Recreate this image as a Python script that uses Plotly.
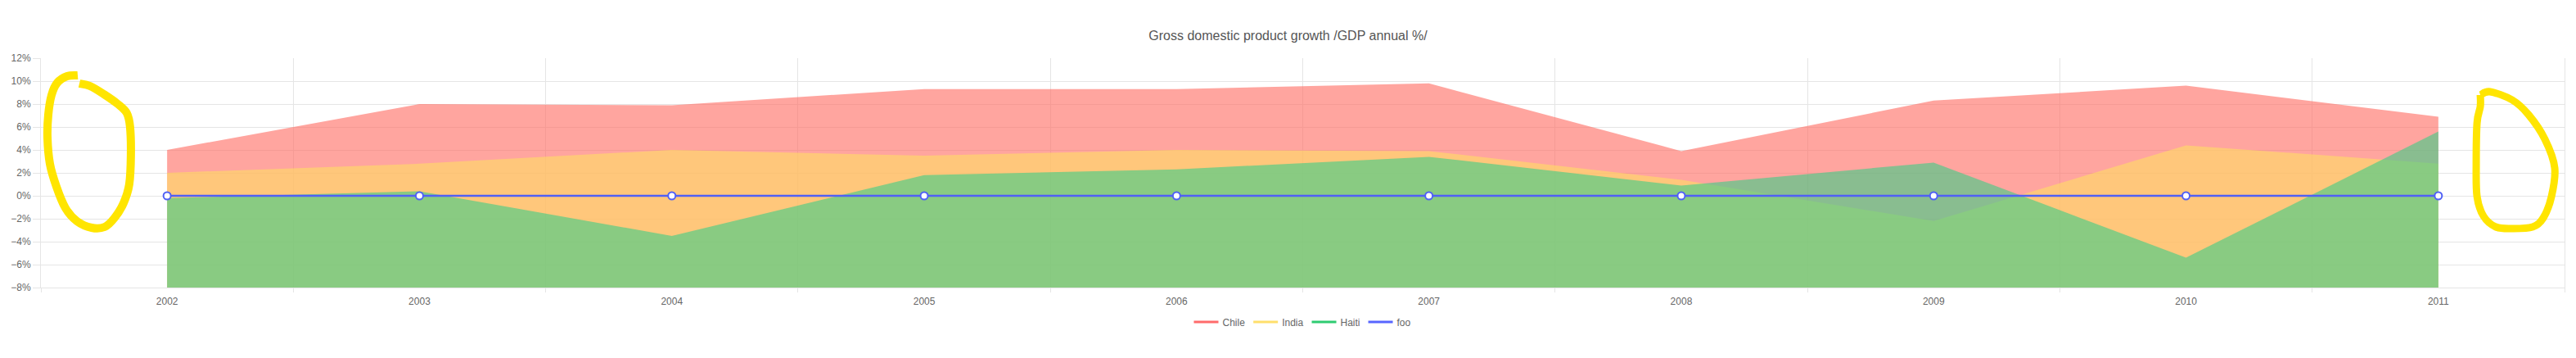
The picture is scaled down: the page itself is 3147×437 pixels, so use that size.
import plotly.graph_objects as go

# values (GDP growth, annual %)
years = ["2002", "2003", "2004", "2005", "2006", "2007", "2008", "2009", "2010", "2011"]
chile = [4.0, 8.0, 7.9, 9.3, 9.3, 9.8, 3.9, 8.3, 9.6, 6.9]
india = [2.0, 2.8, 4.0, 3.5, 4.0, 3.9, 1.4, -2.2, 4.4, 2.8]
haiti = [-0.2, 0.4, -3.5, 1.8, 2.3, 3.4, 0.9, 2.9, -5.4, 5.6]
foo = [0, 0, 0, 0, 0, 0, 0, 0, 0, 0]

y_min, y_max, y_step = -8, 12, 2

series = [
    ("Chile", chile, "rgba(255,105,95,0.6)", "#ff6b6b"),
    ("India", india, "rgba(255,222,100,0.6)", "#ffdf6b"),
    ("Haiti", haiti, "rgba(58,205,135,0.6)", "#2ecc71"),
]

# the page body has an 8px margin, so the figure sits at (8, 8)
OFF = 8
W, H = 3147 - 2 * OFF, 437 - 2 * OFF
# plot area wanted at page x 48..3134, y 71..351
L, R, T, B = 48 - OFF, 3147 - OFF - 3134, 71 - OFF, 437 - OFF - 351

fig = go.Figure()

# areas filled down to the bottom of the axis
for name, vals, fill, _ in series:
    fig.add_trace(go.Scatter(
        x=years + years[::-1],
        y=vals + [y_min] * len(vals),
        mode="lines",
        line=dict(width=0),
        fill="toself",
        fillcolor=fill,
        hoverinfo="skip",
        showlegend=False,
    ))

fig.add_trace(go.Scatter(
    x=years, y=foo, name="foo", mode="lines+markers",
    line=dict(color="#5060f5", width=2.5),
    marker=dict(symbol="circle", size=9, color="white",
                line=dict(color="#5060f5", width=2)),
    showlegend=False,
))

# legend entries drawn as plain lines
for name, _, _, color in series + [("foo", None, None, "#5866ff")]:
    fig.add_trace(go.Scatter(
        x=[None], y=[None], name=name, mode="lines",
        line=dict(color=color, width=3),
    ))


def to_paper(pts):
    # page pixel positions -> paper fractions of the plot area
    pw, ph = W - L - R, H - T - B
    return [((x - OFF - L) / pw, (H - B - (y - OFF)) / ph) for x, y in pts]


def smooth_path(pts):
    # catmull-rom through the points, written as cubic beziers
    p = to_paper(pts)
    d = "M %.5f,%.5f" % p[0]
    for i in range(len(p) - 1):
        p0 = p[i - 1] if i > 0 else p[i]
        p1, p2 = p[i], p[i + 1]
        p3 = p[i + 2] if i + 2 < len(p) else p[i + 1]
        c1 = (p1[0] + (p2[0] - p0[0]) / 6, p1[1] + (p2[1] - p0[1]) / 6)
        c2 = (p2[0] - (p3[0] - p1[0]) / 6, p2[1] - (p3[1] - p1[1]) / 6)
        d += " C %.5f,%.5f %.5f,%.5f %.5f,%.5f" % (c1 + c2 + p2)
    return d


# hand-drawn yellow marks on the screenshot
left_loop = [(93, 92), (80, 93), (68, 101), (61, 116), (57, 140), (56, 168),
             (59, 200), (67, 228), (78, 254), (92, 270), (110, 278), (126, 277),
             (138, 266), (149, 248), (156, 225), (158, 190), (157, 155),
             (153, 138), (142, 127), (125, 115), (108, 105), (95, 102)]
right_loop = [(3031, 116), (3043, 112), (3070, 122), (3090, 140), (3110, 170),
              (3122, 205), (3118, 240), (3108, 266), (3095, 277), (3070, 279),
              (3050, 277), (3035, 264), (3027, 240), (3026, 200), (3027, 150),
              (3031, 130), (3031, 116)]

shapes = []
for pts, w in [(left_loop, 10), (right_loop, 9)]:
    shapes.append(dict(type="path", xref="paper", yref="paper",
                       path=smooth_path(pts), line=dict(color="#ffe500", width=w),
                       layer="above"))

grid = "#e5e5e5"
fig.update_layout(
    width=W, height=H,
    margin=dict(l=L, r=R, t=T, b=B),
    paper_bgcolor="white", plot_bgcolor="white",
    font=dict(family="Liberation Sans, Arial, sans-serif", size=12, color="#666"),
    title=dict(text="Gross domestic product growth /GDP annual %/",
               x=0.5, xanchor="center", y=1 - (43 - OFF) / H, yanchor="middle",
               font=dict(size=16, color="#555")),
    xaxis=dict(type="category", range=[-0.5, len(years) - 0.5],
               tickson="boundaries", showgrid=True, gridcolor=grid,
               ticks="outside", ticklen=5, tickcolor=grid, ticklabelstandoff=6,
               showline=True, linecolor=grid, zeroline=False),
    yaxis=dict(range=[y_min, y_max], dtick=y_step, ticksuffix="%",
               showgrid=True, gridcolor=grid, zeroline=False,
               ticks="outside", ticklen=9, tickcolor=grid,
               showline=True, linecolor=grid, mirror=True),
    legend=dict(orientation="h", x=0.5, xanchor="center",
                y=-42 / (H - T - B), yanchor="middle",
                font=dict(size=12, color="#666")),
    shapes=shapes,
    showlegend=True,
)

fig.write_html("out.html")
